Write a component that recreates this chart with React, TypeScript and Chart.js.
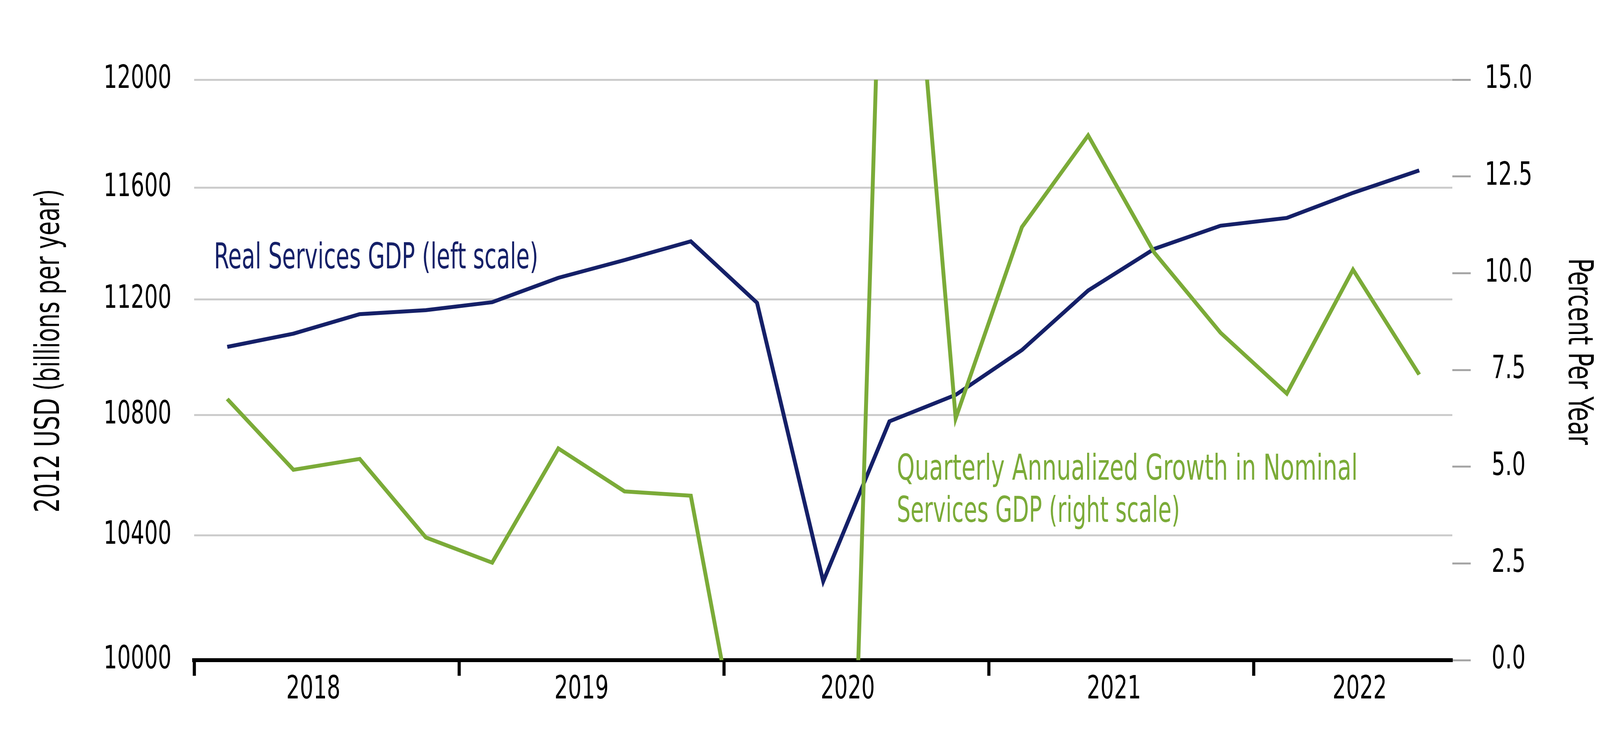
import { useEffect, useRef } from "react";
import { Chart, registerables } from "chart.js";

Chart.register(...registerables);

const FONT = "'DejaVu Sans Condensed', 'DejaVu Sans', sans-serif";
const NAVY = "#152068";
const GREEN = "#7BAB38";
// the original type is a narrow condensed face; squeeze DejaVu Condensed to its width
const SQUEEZE = 0.74;

const quarters = [
  "2018Q1", "2018Q2", "2018Q3", "2018Q4",
  "2019Q1", "2019Q2", "2019Q3", "2019Q4",
  "2020Q1", "2020Q2", "2020Q3", "2020Q4",
  "2021Q1", "2021Q2", "2021Q3", "2021Q4",
  "2022Q1", "2022Q2", "2022Q3",
];
// billions of 2012 USD, left (log) scale
const realServicesGdp = [
  11034, 11080, 11148, 11162,
  11190, 11276, 11339, 11406,
  11188, 10251, 10779, 10869,
  11023, 11231, 11379, 11462,
  11490, 11581, 11663,
];
// percent per year, right scale
const nominalServicesGrowth = [
  6.75, 4.92, 5.2, 3.17,
  2.52, 5.47, 4.36, 4.25,
  -4.9, -29.8, 26.5, 6.25,
  11.19, 13.56, 10.53, 8.46,
  6.89, 10.09, 7.38,
];
const years = ["2018", "2019", "2020", "2021", "2022"];
const leftTicks = [10000, 10400, 10800, 11200, 11600, 12000];
const rightTicks = [0, 2.5, 5, 7.5, 10, 12.5, 15];

// x runs in quarters: tick marks at each year start, labels near the middle of each year
const yearStarts = years.map((_, i) => i * 4);
const yearLabelAt = [1.8, 5.85, 9.87, 13.89, 17.6];

const yearLabel = (v: number) => {
  const i = yearLabelAt.indexOf(v);
  return i >= 0 ? years[i] : "";
};
const leftLabel = (v: number) => String(v);
const rightLabel = (v: number) => v.toFixed(1);

function squeezed(ctx: CanvasRenderingContext2D, text: string, x: number, y: number, k = SQUEEZE) {
  const w = ctx.measureText(text).width;
  ctx.fillText(text, x, y, w * k);
}

// tick labels, drawn at the scales' own tick positions
const tickText = {
  id: "tickText",
  afterDraw(chart: any) {
    const { ctx, scales } = chart;
    const { x, yL, yR } = scales;
    ctx.save();
    ctx.fillStyle = "#000";
    ctx.font = `82px ${FONT}`;
    ctx.textBaseline = "middle";

    ctx.textAlign = "center";
    x.ticks.forEach((t: any) => {
      const s = yearLabel(t.value);
      if (s) squeezed(ctx, s, x.getPixelForValue(t.value), x.top + 77);
    });

    ctx.textAlign = "right";
    yL.ticks.forEach((t: any) => {
      squeezed(ctx, leftLabel(t.value), yL.right - 58, yL.getPixelForValue(t.value));
    });

    ctx.textAlign = "center";
    yR.ticks.forEach((t: any) => {
      squeezed(ctx, rightLabel(t.value), yR.left + 144, yR.getPixelForValue(t.value));
    });
    ctx.restore();
  },
};

const notes = {
  id: "notes",
  afterDraw(chart: any) {
    const { ctx, scales } = chart;
    const { x, yL, yR } = scales;
    ctx.save();
    ctx.textAlign = "left";
    ctx.textBaseline = "alphabetic";
    ctx.font = `90px ${FONT}`;
    ctx.fillStyle = NAVY;
    ctx.fillText("Real Services GDP (left scale)", x.getPixelForValue(0.3), yL.getPixelForValue(11310), 830);
    ctx.fillStyle = GREEN;
    const gx = x.getPixelForValue(10.61);
    ctx.fillText("Quarterly Annualized Growth in Nominal", gx, yR.getPixelForValue(4.66), 1180);
    ctx.fillText("Services GDP (right scale)", gx, yR.getPixelForValue(3.57), 725);

    // axis titles
    ctx.fillStyle = "#000";
    ctx.textAlign = "center";
    ctx.textBaseline = "middle";
    ctx.font = `88px ${FONT}`;
    ctx.save();
    ctx.translate(128, 898);
    ctx.rotate(-Math.PI / 2);
    ctx.fillText("2012 USD (billions per year)", 0, 0, 828);
    ctx.restore();
    ctx.save();
    ctx.translate(4039, 900);
    ctx.rotate(Math.PI / 2);
    ctx.fillText("Percent Per Year", 0, 0, 478);
    ctx.restore();
    ctx.restore();
  },
};

export default function App() {
  const chartRef = useRef<HTMLCanvasElement>(null);

  useEffect(() => {
    if (!chartRef.current) return;
    const ctx = chartRef.current.getContext("2d");
    if (!ctx) return;

    const myChart = new Chart(ctx, {
      type: "line",
      data: {
        datasets: [
          {
            label: "Real Services GDP (left scale)",
            data: realServicesGdp.map((v, i) => ({ x: i + 0.5, y: v })),
            yAxisID: "yL",
            borderColor: NAVY,
            borderWidth: 10,
            pointRadius: 0,
            tension: 0,
            clip: 0,
            order: 2,
          },
          {
            label: "Quarterly Annualized Growth in Nominal Services GDP (right scale)",
            data: nominalServicesGrowth.map((v, i) => ({ x: i + 0.5, y: v })),
            yAxisID: "yR",
            borderColor: GREEN,
            borderWidth: 10,
            pointRadius: 0,
            tension: 0,
            clip: 0,
            order: 1,
          },
        ],
      },
      options: {
        responsive: false,
        animation: false,
        devicePixelRatio: 1,
        events: [],
        layout: { padding: { top: 204, left: 0, right: 0, bottom: 0 } },
        plugins: {
          legend: { display: false },
          tooltip: { enabled: false },
        },
        scales: {
          x: {
            type: "linear",
            min: 0,
            max: quarters.length,
            afterFit: (s: any) => { s.height = 230; },
            afterBuildTicks: (s: any) => {
              s.ticks = [...yearStarts, ...yearLabelAt].sort((a, b) => a - b).map((v) => ({ value: v }));
            },
            border: { display: true, color: "#000", width: 10 },
            grid: {
              drawOnChartArea: false,
              drawTicks: true,
              tickLength: 40,
              tickWidth: 8,
              tickColor: (c: any) => (c.tick && yearStarts.includes(c.tick.value) ? "#000" : "rgba(0,0,0,0)"),
            },
            ticks: { display: false, autoSkip: false, maxRotation: 0 },
          },
          yL: {
            type: "logarithmic",
            position: "left",
            min: leftTicks[0],
            max: leftTicks[leftTicks.length - 1],
            afterFit: (s: any) => { s.width = 497; },
            afterBuildTicks: (s: any) => { s.ticks = leftTicks.map((v) => ({ value: v })); },
            border: { display: false },
            grid: { color: "#CCCCCC", lineWidth: 5, drawTicks: false },
            ticks: { display: false },
          },
          yR: {
            type: "linear",
            position: "right",
            min: rightTicks[0],
            max: rightTicks[rightTicks.length - 1],
            afterFit: (s: any) => { s.width = 450; },
            afterBuildTicks: (s: any) => { s.ticks = rightTicks.map((v) => ({ value: v })); },
            border: { display: false },
            grid: {
              drawOnChartArea: false,
              drawTicks: true,
              tickLength: 47,
              tickWidth: 5,
              tickColor: "#A6A6A6",
            },
            ticks: { display: false },
          },
        },
      },
      plugins: [tickText, notes],
    } as any);

    return () => {
      myChart.destroy();
    };
  }, []);

  return (
    <div style={{ position: "absolute", left: 0, top: 0, width: 4168, height: 1920, background: "#fff" }}>
      <canvas ref={chartRef} width={4168} height={1920} style={{ width: 4168, height: 1920 }} />
    </div>
  );
}
